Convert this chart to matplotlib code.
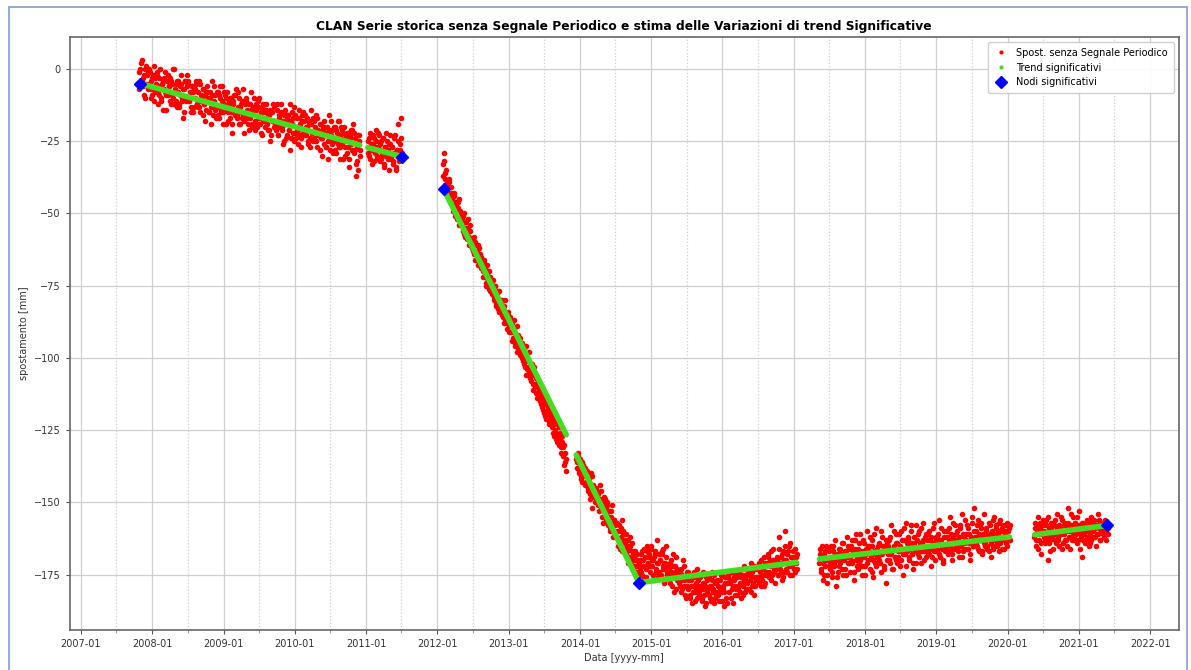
import matplotlib
matplotlib.use('Agg')
import matplotlib.pyplot as plt
import matplotlib.dates as mdates
from matplotlib.lines import Line2D
from matplotlib.patches import Rectangle
import pandas as pd

# ---------------- data ----------------
SAMPLE_STEP = '5D'   # sampling interval of each listed series

seg_a_start = '2007-10-26'
seg_a_vals = [
    -1, -6, 2, -4, -3, -9, 0, -5, -2, -7,
    -6, -1, -10, -3, -7, 1, -8, -5, -2, -12,
    -3, -6, -10, -5, -14, -4, -7, -1, -9, -8,
    -9, -6, -3, -12, -5, -10, 0, -8, -11, -4,
    -8, -13, -6, -5, -10, -17, -7, -4, -11, -2,
    -5, -11, -10, -15, -6, -8, -13, -7, -4, -12,
    -8, -13, -5, -11, -10, -16, -7, -12, -9, -14,
    -8, -11, -15, -10, -19, -9, -12, -6, -14, -13,
    -13, -8, -17, -10, -14, -6, -15, -12, -9, -19,
    -13, -18, -11, -10, -15, -22, -12, -9, -16, -7,
    -16, -13, -10, -19, -12, -17, -7, -15, -18, -11,
    -11, -17, -16, -21, -12, -14, -19, -13, -10, -18,
    -14, -19, -11, -17, -16, -22, -13, -18, -15, -20,
    -14, -17, -21, -16, -25, -15, -18, -12, -20, -19,
    -19, -14, -23, -16, -20, -12, -21, -18, -15, -25,
    -19, -24, -17, -16, -21, -28, -18, -15, -22, -13,
    -16, -22, -21, -26, -17, -19, -24, -18, -15, -23,
    -23, -20, -17, -26, -19, -24, -14, -22, -25, -18,
    -20, -25, -17, -23, -22, -28, -19, -24, -21, -26,
    -20, -23, -27, -22, -31, -21, -24, -18, -26, -25,
    -25, -20, -29, -22, -26, -18, -27, -24, -21, -31,
    -25, -30, -23, -22, -27, -34, -24, -21, -28, -19,
    -22, -28, -37, -32, -23, -25, -30,
]
seg_a2_start = '2007-10-28'
seg_a2_vals = [
    -7, 0, -4, 3, -6, -2, -10, 1, -5, -1,
    0, -7, -4, -9, -2, -11, -3, -6, -1, -8,
    -9, 0, -11, -5, -7, -3, -8, -14, -4, -2,
    -6, -11, -4, -9, 0, -12, -7, -5, -13, -4,
    -12, -5, -9, -2, -11, -7, -15, -4, -10, -6,
    -4, -11, -8, -13, -6, -15, -7, -10, -5, -12,
    -13, -4, -15, -9, -11, -7, -12, -18, -8, -6,
    -10, -15, -8, -13, -4, -16, -11, -9, -17, -8,
    -16, -9, -13, -6, -15, -11, -19, -8, -14, -10,
    -8, -15, -12, -17, -10, -19, -11, -14, -9, -16,
    -17, -8, -19, -13, -15, -11, -16, -22, -12, -10,
    -14, -19, -12, -17, -8, -20, -15, -13, -21, -12,
    -20, -13, -17, -10, -19, -15, -23, -12, -18, -14,
    -12, -19, -16, -21, -14, -23, -15, -18, -13, -20,
    -21, -12, -23, -17, -19, -15, -20, -26, -16, -14,
    -18, -23, -16, -21, -12, -24, -19, -17, -25, -16,
    -24, -17, -21, -14, -23, -19, -27, -16, -22, -18,
    -16, -23, -20, -25, -18, -27, -19, -22, -17, -24,
    -25, -16, -27, -21, -23, -19, -24, -30, -20, -18,
    -22, -27, -20, -25, -16, -28, -23, -21, -29, -20,
    -28, -21, -25, -18, -27, -23, -31, -20, -26, -22,
    -20, -27, -24, -29, -22, -31, -23, -26, -21, -28,
    -29, -24, -33, -27, -35, -23, -28,
]

seg_b_start = '2011-01-10'
seg_b_vals = [
    -25, -30, -22, -28, -33, -26, -24, -29, -21, -31, -27, -23,
    -28, -32, -25, -30, -24, -34, -27, -22, -29, -31, -26, -23,
    -30, -27, -33, -24, -29, -35, -28, -19, -31, -26, -17, -30,
]
seg_b2_start = '2011-01-12'
seg_b2_vals = [
    -29, -24, -31, -26, -28, -23, -32, -27, -25, -30, -22, -28,
    -26, -31, -29, -24, -33, -27, -30, -25, -28, -35, -26, -31,
    -27, -32, -29, -23, -34, -28, -30, -25, -32, -28, -24, -29,
]

seg_c_start = '2012-01-28'
seg_c_vals = [
    -33, -29, -38, -36, -42, -40, -44, -39, -46, -43,
    -45, -49, -43, -51, -47, -50, -46, -54, -49, -52,
    -52, -56, -50, -58, -53, -57, -55, -61, -54, -59,
    -60, -63, -58, -66, -61, -64, -68, -62, -66, -65,
    -67, -70, -66, -72, -69, -75, -71, -73, -70, -77,
    -74, -78, -76, -80, -75, -82, -79, -77, -84, -80,
    -81, -85, -83, -88, -80, -86, -90, -84, -89, -87,
    -91, -88, -93, -90, -96, -92, -89, -97, -95, -93,
    -98, -95, -101, -97, -103, -99, -96, -104, -101, -105,
    -104, -108, -106, -111, -103, -109, -112, -107, -113, -110,
    -112, -116, -113, -118, -115, -120, -114, -119, -117, -122,
    -120, -123, -119, -126, -122, -125, -128, -121, -127, -124,
    -128, -131, -127, -134, -130, -136, -139,
]
seg_c2_start = '2012-01-30'
seg_c2_vals = [
    -37, -32, -40, -35, -39, -43, -38, -45, -41, -44,
    -47, -44, -50, -46, -52, -48, -45, -51, -53, -50,
    -54, -51, -57, -53, -55, -59, -52, -58, -56, -60,
    -62, -59, -64, -60, -66, -63, -61, -67, -64, -69,
    -68, -72, -67, -71, -74, -68, -73, -76, -72, -74,
    -76, -73, -79, -75, -81, -78, -83, -77, -80, -82,
    -83, -80, -86, -82, -87, -84, -88, -85, -91, -86,
    -89, -94, -91, -87, -95, -93, -98, -92, -96, -99,
    -96, -100, -98, -102, -99, -106, -100, -103, -98, -107,
    -106, -102, -109, -105, -110, -107, -114, -108, -111, -115,
    -114, -110, -117, -113, -119, -116, -121, -115, -118, -123,
    -118, -122, -124, -120, -127, -123, -126, -129, -122, -130,
    -126, -133, -129, -131, -137, -133, -135,
]

seg_d_start = '2013-12-13'
seg_d_vals = [
    -135, -138, -133, -140, -137, -142, -136, -141, -139, -144,
    -141, -139, -145, -143, -147, -140, -152, -144, -148, -146,
    -145, -150, -147, -153, -149, -146, -155, -151, -148, -154,
    -152, -156, -151, -158, -155, -160, -153, -157, -162, -156,
    -158, -162, -157, -165, -160, -164, -159, -167, -161, -163,
    -163, -168, -165, -171, -166, -162, -170, -167, -173, -169,
    -170, -174, -168, -176, -172,
]
seg_d2_start = '2013-12-15'
seg_d2_vals = [
    -136, -134, -139, -135, -141, -138, -143, -137, -140, -138,
    -143, -140, -146, -142, -149, -144, -141, -147, -145, -150,
    -148, -146, -151, -149, -144, -152, -150, -157, -152, -149,
    -154, -150, -157, -153, -159, -155, -151, -158, -156, -161,
    -157, -160, -163, -158, -166, -162, -156, -164, -160, -166,
    -164, -161, -167, -163, -169, -165, -171, -164, -168, -172,
    -167, -172, -170, -175, -171,
]

seg_e_start = '2014-11-03'
seg_e_vals = [
    -173, -168, -175, -170, -166, -172, -169, -176, -167, -171,
    -169, -174, -165, -172, -170, -177, -168, -173, -163, -171,
    -174, -170, -176, -167, -172, -178, -171, -165, -175, -173,
    -176, -171, -174, -179, -168, -175, -172, -180, -173, -177,
    -178, -174, -181, -175, -170, -179, -177, -183, -174, -176,
    -180, -176, -182, -177, -185, -179, -174, -181, -178, -183,
    -177, -182, -179, -175, -184, -180, -178, -186, -176, -181,
    -180, -176, -183, -179, -174, -181, -185, -178, -182, -177,
    -179, -184, -177, -181, -175, -180, -186, -178, -183, -176,
    -178, -175, -181, -177, -183, -174, -179, -176, -182, -180,
    -176, -180, -174, -178, -183, -175, -179, -172, -181, -177,
    -178, -174, -180, -175, -171, -179, -176, -182, -173, -177,
    -173, -177, -171, -176, -179, -172, -175, -169, -178, -174,
    -171, -175, -168, -174, -170, -177, -172, -166, -174, -170,
    -173, -169, -175, -162, -171, -174, -168, -176, -170, -165,
    -170, -174, -167, -172, -164, -171, -175, -169, -173, -166,
    -171, -168,
]
seg_e2_start = '2014-11-05'
seg_e2_vals = [
    -170, -174, -167, -172, -176, -169, -173, -165, -171, -168,
    -172, -166, -170, -175, -169, -167, -174, -171, -176, -168,
    -170, -175, -168, -173, -166, -171, -177, -169, -174, -172,
    -173, -178, -170, -176, -172, -181, -174, -169, -177, -175,
    -175, -179, -173, -180, -177, -172, -182, -176, -179, -174,
    -177, -183, -179, -175, -181, -176, -184, -180, -173, -179,
    -181, -176, -180, -183, -178, -174, -182, -179, -185, -177,
    -176, -182, -179, -184, -177, -180, -175, -183, -178, -181,
    -182, -177, -180, -175, -184, -179, -181, -176, -178, -185,
    -176, -181, -178, -174, -180, -185, -177, -179, -175, -182,
    -179, -174, -181, -176, -178, -173, -182, -177, -175, -180,
    -175, -180, -173, -177, -181, -174, -178, -172, -179, -176,
    -176, -172, -178, -174, -170, -177, -173, -179, -171, -175,
    -174, -169, -176, -172, -167, -175, -170, -173, -178, -171,
    -170, -175, -166, -173, -169, -177, -171, -167, -174, -160,
    -173, -168, -171, -165, -175, -169, -172, -167, -170, -174,
    -169, -173,
]

seg_f_start = '2017-05-12'
seg_f_vals = [
    -171, -166, -174, -169, -177, -168, -172, -165, -175, -170,
    -167, -173, -170, -176, -165, -171, -168, -179, -169, -174,
    -172, -166, -170, -164, -175, -169, -173, -167, -162, -171,
    -169, -174, -165, -171, -167, -177, -163, -170, -168, -172,
    -166, -171, -161, -169, -175, -167, -164, -172, -168, -160,
    -170, -165, -173, -168, -163, -176, -167, -171, -159, -169,
    -165, -170, -168, -174, -162, -167, -172, -166, -178, -164,
    -168, -163, -171, -158, -167, -173, -165, -169, -161, -170,
    -164, -169, -167, -172, -160, -166, -175, -163, -168, -157,
    -167, -162, -170, -165, -158, -168, -173, -164, -166, -171,
    -163, -168, -160, -166, -171, -164, -157, -167, -162, -169,
    -166, -161, -168, -163, -172, -165, -159, -167, -170, -162,
    -162, -167, -164, -156, -169, -163, -166, -171, -160, -165,
    -165, -160, -168, -163, -155, -166, -170, -162, -164, -158,
    -161, -166, -163, -169, -159, -165, -154, -167, -162, -164,
    -163, -158, -166, -161, -170, -164, -157, -165, -152, -162,
    -160, -165, -162, -156, -167, -163, -159, -168, -161, -164,
    -164, -159, -166, -161, -157, -163, -169, -160, -165, -155,
    -161, -158, -164, -160, -167, -156, -163, -159, -162, -166,
    -160, -164, -157, -162, -159, -163,
]
seg_f2_start = '2017-05-14'
seg_f2_vals = [
    -168, -173, -165, -171, -175, -167, -170, -178, -166, -172,
    -171, -165, -169, -174, -167, -172, -163, -170, -176, -168,
    -166, -171, -168, -173, -164, -170, -167, -175, -169, -165,
    -171, -166, -170, -163, -168, -174, -166, -161, -169, -173,
    -164, -170, -167, -172, -163, -169, -175, -166, -171, -165,
    -167, -162, -169, -174, -165, -170, -161, -168, -172, -166,
    -169, -164, -171, -160, -168, -165, -173, -167, -163, -170,
    -165, -170, -162, -168, -173, -166, -160, -169, -164, -171,
    -167, -161, -165, -170, -163, -168, -159, -166, -172, -164,
    -163, -169, -166, -160, -168, -164, -171, -162, -167, -158,
    -166, -161, -169, -164, -159, -167, -163, -170, -165, -161,
    -163, -168, -160, -166, -162, -169, -164, -157, -167, -163,
    -166, -161, -168, -163, -159, -165, -170, -162, -167, -160,
    -162, -167, -159, -165, -161, -168, -163, -157, -166, -163,
    -165, -160, -167, -162, -158, -164, -169, -161, -166, -156,
    -161, -166, -159, -164, -168, -162, -155, -165, -160, -163,
    -164, -158, -166, -161, -163, -157, -167, -162, -154, -165,
    -160, -165, -162, -167, -158, -164, -161, -156, -166, -162,
    -163, -159, -165, -161, -157, -164, -160, -166, -158, -163,
    -161, -158, -165, -160, -163, -158,
]

seg_g_start = '2020-05-18'
seg_g_vals = [
    -162, -157, -165, -160, -155, -163, -159, -168, -161, -158,
    -160, -164, -156, -162, -170, -159, -163, -157, -161, -166,
    -158, -163, -160, -154, -162, -165, -159, -161, -156, -164,
    -161, -157, -163, -159, -152, -160, -166, -158, -162, -155,
    -159, -163, -157, -161, -164, -158, -153, -160, -162, -169,
    -157, -161, -159, -163, -156, -160, -158, -164, -155, -162,
    -160, -156, -162, -158, -161, -154, -159, -163, -157, -160,
    -158, -162, -156, -160, -157, -159,
]
seg_g2_start = '2020-05-20'
seg_g2_vals = [
    -159, -163, -158, -166, -161, -157, -164, -160, -156, -162,
    -163, -158, -161, -155, -164, -160, -167, -159, -162, -157,
    -161, -156, -164, -159, -163, -158, -161, -155, -166, -160,
    -158, -163, -160, -165, -157, -162, -159, -154, -163, -161,
    -162, -157, -160, -155, -163, -159, -166, -161, -157, -163,
    -160, -164, -158, -162, -159, -165, -157, -161, -163, -156,
    -157, -162, -159, -165, -158, -161, -156, -163, -160, -158,
    -161, -157, -160, -163, -158, -161,
]

# significant trends (piecewise segments)
trend_start_dates = ['2007-10-31', '2011-01-10', '2012-02-03', '2013-12-13',
                     '2014-10-31', '2017-05-13', '2020-05-19']
trend_start_vals = [-5.0, -27.2, -41.6, -133.6, -177.8, -169.6, -161.2]
trend_end_dates = ['2010-11-29', '2011-07-05', '2013-10-23', '2014-10-31',
                   '2017-01-14', '2020-01-11', '2021-05-27']
trend_end_vals = [-26.3, -30.3, -126.6, -177.8, -170.8, -162.0, -158.0]

# significant nodes
node_dates = ['2007-10-31', '2011-07-05', '2012-02-03', '2014-10-31', '2021-05-27']
node_vals = [-5.0, -30.3, -41.6, -177.8, -158.0]

title = 'CLAN Serie storica senza Segnale Periodico e stima delle Variazioni di trend Significative'
xlabel = 'Data [yyyy-mm]'
ylabel = 'spostamento [mm]'
legend_labels = ['Spost. senza Segnale Periodico', 'Trend significativi', 'Nodi significativi']

# ---------------- figure ----------------
W, H = 1191, 670
fig = plt.figure(figsize=(W / 100, H / 100), dpi=100)
ax = fig.add_axes([70 / W, 1 - 630 / H, (1178.5 - 70) / W, (630 - 37) / H])

RED = '#ff0000'
GREEN = '#44dd22'
BLUE = '#0000ff'

segments = [(seg_a_start, seg_a_vals), (seg_a2_start, seg_a2_vals),
            (seg_b_start, seg_b_vals), (seg_b2_start, seg_b2_vals),
            (seg_c_start, seg_c_vals), (seg_c2_start, seg_c2_vals),
            (seg_d_start, seg_d_vals), (seg_d2_start, seg_d2_vals),
            (seg_e_start, seg_e_vals), (seg_e2_start, seg_e2_vals),
            (seg_f_start, seg_f_vals), (seg_f2_start, seg_f2_vals),
            (seg_g_start, seg_g_vals), (seg_g2_start, seg_g2_vals)]
for start, vals in segments:
    dates = pd.date_range(start, periods=len(vals), freq=SAMPLE_STEP)
    ax.plot(dates, vals, linestyle='none', marker='o', markersize=4.0,
            markeredgewidth=0, color=RED, zorder=3)

for sd, sv, ed, ev in zip(trend_start_dates, trend_start_vals, trend_end_dates, trend_end_vals):
    ax.plot(pd.to_datetime([sd, ed]), [sv, ev], color=GREEN, linewidth=4,
            solid_capstyle='round', zorder=4)

ax.plot(pd.to_datetime(node_dates), node_vals, linestyle='none', marker='D',
        markersize=6, color=BLUE, zorder=5)

ax.set_xlim(pd.Timestamp('2006-11-06'), pd.Timestamp('2022-05-26'))
ax.set_ylim(-194.2, 11.1)
ax.set_yticks([0, -25, -50, -75, -100, -125, -150, -175])

ax.xaxis.set_major_locator(mdates.YearLocator())
ax.xaxis.set_major_formatter(mdates.DateFormatter('%Y-%m'))
ax.xaxis.set_minor_locator(mdates.MonthLocator(bymonth=7))

ax.grid(True, which='major', color='#cfcfcf', linewidth=0.9, linestyle='-')
ax.grid(True, which='minor', axis='x', color='#cfcfcf', linewidth=0.9, linestyle=':')
ax.set_axisbelow(True)

ax.tick_params(axis='both', which='major', labelsize=7, length=3, color='#555555',
               labelcolor='#333333')
ax.tick_params(axis='x', which='minor', length=2, color='#888888')
for s in ax.spines.values():
    s.set_color('#666666')
    s.set_linewidth(1.2)

ax.set_title(title, fontsize=8.8, fontweight='bold', pad=5)
ax.set_xlabel(xlabel, fontsize=7, color='#333333', labelpad=3)
ax.set_ylabel(ylabel, fontsize=7, color='#333333', labelpad=4)

handles = [
    Line2D([], [], linestyle='none', marker='o', markersize=3, markeredgewidth=0, color=RED),
    Line2D([], [], linestyle='none', marker='o', markersize=3, markeredgewidth=0, color=GREEN),
    Line2D([], [], linestyle='none', marker='D', markersize=6, color=BLUE),
]
ax.legend(handles, legend_labels, loc='upper right', fontsize=7, framealpha=0.9,
          borderpad=0.6, labelspacing=0.5, handlelength=1.5, edgecolor='#cccccc')

# thin blue frame around the whole picture
fig.add_artist(Rectangle((9 / W, -0.01), (1187 - 9) / W, 1 - 7 / H + 0.01,
                         transform=fig.transFigure, fill=False,
                         edgecolor='#7a9fd4', linewidth=1.2))

fig.savefig('out.png', dpi=100)
